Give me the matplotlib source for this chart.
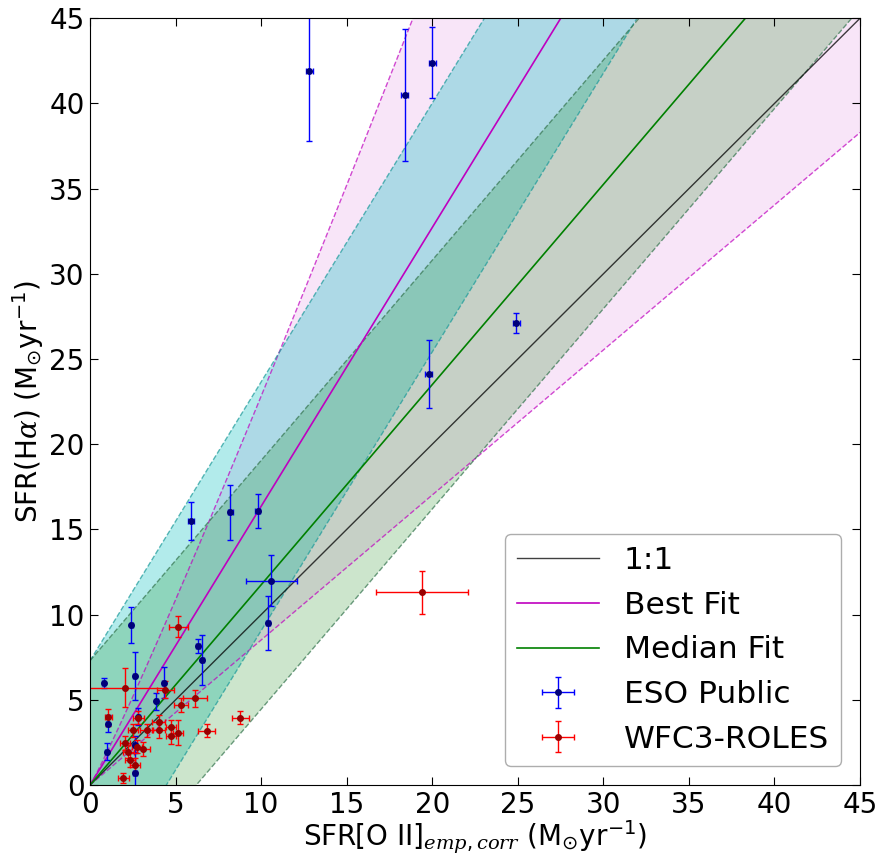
import numpy as np
import matplotlib.pyplot as plt

plt.rcParams['mathtext.fontset'] = 'custom'
plt.rcParams['mathtext.rm'] = 'DejaVu Sans'
plt.rcParams['mathtext.it'] = 'DejaVu Serif:italic'

# ESO Public sample
eso_x = [12.8, 18.4, 20.0, 19.8, 24.9, 5.9, 8.2, 9.8, 10.6, 10.4, 2.42, 6.32,
         6.57, 2.61, 0.8, 4.3, 3.88, 2.83, 1.03, 2.63, 0.97, 2.63]
eso_y = [41.9, 40.5, 42.4, 24.1, 27.1, 15.5, 16.0, 16.1, 12.0, 9.5, 9.4, 8.15,
         7.33, 6.4, 6.0, 6.0, 4.9, 4.0, 3.6, 2.35, 1.95, 0.72]
eso_xerr = [0.2, 0.2, 0.2, 0.2, 0.2, 0.15, 0.15, 0.15, 1.5, 0.1, 0.1, 0.1,
            0.1, 0.1, 0.1, 0.1, 0.1, 0.1, 0.1, 0.1, 0.1, 0.1]
eso_yerr = [4.1, 3.85, 2.1, 2.0, 0.6, 1.1, 1.6, 1.0, 1.5, 1.6, 1.05, 0.4,
            1.45, 1.4, 0.3, 0.9, 0.5, 0.5, 0.5, 0.5, 0.5, 1.2]

# WFC3-ROLES sample
roles_x = [19.4, 5.15, 2.03, 4.4, 6.14, 5.3, 8.77, 1.07, 6.82, 5.16, 4.72,
           4.74, 4.0, 4.0, 2.83, 3.3, 2.5, 2.05, 2.24, 2.73, 3.12, 2.34,
           2.63, 1.95]
roles_y = [11.3, 9.3, 5.72, 5.6, 5.09, 4.7, 3.95, 3.97, 3.19, 3.07, 2.88,
           3.42, 3.25, 3.7, 3.96, 3.2, 3.2, 2.45, 1.96, 2.25, 2.1, 1.47,
           1.17, 0.43]
roles_xerr = [2.7, 0.55, 2.34, 0.5, 0.7, 0.4, 0.5, 0.2, 0.5, 0.3, 0.3,
              0.3, 0.4, 0.4, 0.3, 0.4, 0.3, 0.3, 0.3, 0.3, 0.4, 0.3,
              0.3, 0.3]
roles_yerr = [1.25, 0.6, 1.15, 0.5, 0.5, 0.4, 0.4, 0.5, 0.4, 0.75, 0.5,
              0.4, 0.5, 0.4, 0.4, 0.4, 0.4, 0.4, 0.4, 0.4, 0.4, 0.4,
              0.4, 0.3]

# fit parameters
best_slope = 1.636
best_hi_a, best_hi_b = 1.947, 1.069
best_lo_slope = 0.851
median_slope = 1.175
offset = 7.3

x = np.linspace(0, 45, 400)
mag = (0.75, 0, 0.75)
cyn = (0, 0.75, 0.75)
grn = (0, 0.5, 0)

fig = plt.figure(figsize=(8.83, 8.61), dpi=100)
ax = fig.add_axes([0.102, 0.0883, 0.872, 0.8905])

# best fit uncertainty band
ax.fill_between(x, best_lo_slope * x, best_hi_a * x ** best_hi_b,
                color=mag, alpha=0.1, lw=0)
ax.plot(x, best_lo_slope * x, '--', color=mag, alpha=0.7, lw=1)
ax.plot(x, best_hi_a * x ** best_hi_b, '--', color=mag, alpha=0.7, lw=1)

# scatter bands
ax.fill_between(x, best_slope * x - offset, best_slope * x + offset,
                color=cyn, alpha=0.3, lw=0)
ax.plot(x, best_slope * x - offset, '--', color=(0.1, 0.6, 0.6), alpha=0.7, lw=1)
ax.plot(x, best_slope * x + offset, '--', color=(0.1, 0.6, 0.6), alpha=0.7, lw=1)

ax.fill_between(x, median_slope * x - offset, median_slope * x + offset,
                color=grn, alpha=0.2, lw=0)
ax.plot(x, median_slope * x - offset, '--', color=(0.2, 0.45, 0.3), alpha=0.7, lw=1)
ax.plot(x, median_slope * x + offset, '--', color=(0.2, 0.45, 0.3), alpha=0.7, lw=1)

ax.plot(x, x, color='k', alpha=0.75, lw=1, label='1:1')
ax.plot(x, best_slope * x, color=mag, lw=1.2, label='Best Fit')
ax.plot(x, median_slope * x, color=grn, lw=1.2, label='Median Fit')

ax.errorbar(eso_x, eso_y, xerr=eso_xerr, yerr=eso_yerr, fmt='o', color='b',
            ms=4, mfc='#00007a', mec='#00007a', elinewidth=1, capsize=2.5,
            label='ESO Public')
ax.errorbar(roles_x, roles_y, xerr=roles_xerr, yerr=roles_yerr, fmt='o',
            color='r', ms=4, mfc='#9a0000', mec='#9a0000', elinewidth=1,
            capsize=2.5, label='WFC3-ROLES')

ax.set_xlim(0, 45)
ax.set_ylim(0, 45)
ax.set_xticks(range(0, 46, 5))
ax.set_yticks(range(0, 46, 5))
ax.tick_params(direction='in', top=True, right=True, labelsize=20, length=6,
               pad=4)
ax.set_xlabel(r'SFR[O II]$_{emp,corr}$ (M$_{\odot}$yr$^{-1}$)', fontsize=20,
              labelpad=0)
ax.set_ylabel(r'SFR(H$\alpha$) (M$_{\odot}$yr$^{-1}$)', fontsize=20,
              labelpad=2)

leg = ax.legend(loc='lower right', fontsize=22.5, fancybox=True,
                borderaxespad=0.6, handlelength=2.6, labelspacing=0.5)
leg.get_frame().set_edgecolor('0.6')

fig.savefig('out.png', dpi=100)
